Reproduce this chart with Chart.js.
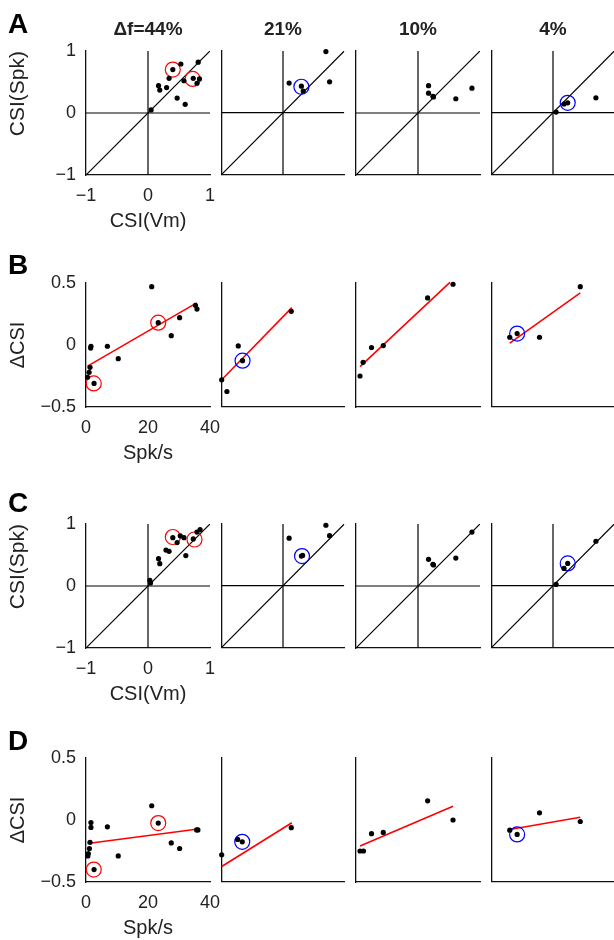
<!DOCTYPE html>
<html lang="en">
<head>
<meta charset="UTF-8">
<title>CSI scatter panels</title>
<script src="https://cdn.jsdelivr.net/npm/chart.js"></script>
<style>
  body { margin: 0; background: #fff; }
  #fig { position: relative; width: 614px; height: 940px; overflow: hidden; font-family: "Liberation Sans", Arial, sans-serif; }
  #fig canvas { position: absolute; }
  .letter { position: absolute; left: 8px; font-size: 28px; font-weight: bold; line-height: 28px; color: #000; z-index: 5; }
  .coltitle { position: absolute; top: 19px; width: 124px; text-align: center; font-size: 19px; font-weight: bold; line-height: 19px; color: #222; z-index: 5; }
</style>
</head>
<body>
<div id="fig"></div>
<script>
// labels
const rowLetters = ['A', 'B', 'C', 'D'];
const colTitles = ['\u0394f=44%', '21%', '10%', '4%'];

// axis limits / ticks
const csiLim = [-1, 1];
const rateLim = [0, 40];
const dcsiLim = [-0.5, 0.5];

// Row A: CSI(Spk) vs CSI(Vm)
const aPts44 = [[0.05,0.05],[0.40,0.70],[0.53,0.79],[0.81,0.82],[0.34,0.56],[0.17,0.44],[0.19,0.37],[0.30,0.41],[0.58,0.52],[0.73,0.56],[0.79,0.48],[0.83,0.55],[0.47,0.24],[0.60,0.14]];
const aPts21 = [[0.10,0.48],[0.30,0.43],[0.33,0.35],[0.70,0.99],[0.76,0.50]];
const aPts10 = [[0.17,0.44],[0.17,0.32],[0.24,0.27],[0.25,0.26],[0.61,0.23],[0.87,0.40]];
const aPts4 = [[0.05,0.01],[0.18,0.14],[0.24,0.16],[0.70,0.24]];
const aMark44 = [[0.40,0.70],[0.72,0.55]];
const aMark21 = [[0.30,0.42]];
const aMark4 = [[0.24,0.16]];

// Row B: dCSI vs firing rate
const bPts44 = [[21.2,0.47],[23.3,0.18],[30.2,0.22],[27.5,0.075],[35.3,0.32],[35.8,0.29],[6.9,-0.01],[10.4,-0.11],[1.6,-0.01],[1.5,-0.025],[1.3,-0.18],[1.0,-0.22],[0.5,-0.26],[2.6,-0.31]];
const bPts21 = [[0,-0.285],[1.7,-0.38],[5.4,-0.01],[6.8,-0.13],[22.7,0.27]];
const bPts10 = [[1.3,-0.25],[2.3,-0.14],[5.0,-0.02],[8.8,-0.005],[23.1,0.38],[31.3,0.49]];
const bPts4 = [[5.9,0.06],[8.3,0.09],[15.6,0.06],[28.9,0.47]];
const bMark44 = [[2.5,-0.31],[23.3,0.18]];
const bMark21 = [[6.8,-0.13]];
const bMark4 = [[8.3,0.09]];
const bFit44 = [[0.5,-0.17],[35.7,0.34]];
const bFit21 = [[0,-0.285],[22.9,0.30]];
const bFit10 = [[1.3,-0.175],[30.3,0.505]];
const bFit4 = [[5.9,0.013],[28.9,0.42]];

// Row C: CSI(Spk) vs CSI(Vm)
const cPts44 = [[0.03,0.09],[0.04,0.05],[0.17,0.44],[0.19,0.36],[0.29,0.58],[0.34,0.56],[0.40,0.78],[0.47,0.70],[0.52,0.81],[0.58,0.78],[0.61,0.49],[0.73,0.76],[0.79,0.87],[0.84,0.91]];
const cPts21 = [[0.10,0.77],[0.30,0.48],[0.32,0.49],[0.70,0.98],[0.76,0.81]];
const cPts10 = [[0.17,0.43],[0.24,0.35],[0.25,0.34],[0.61,0.45],[0.87,0.87]];
const cPts4 = [[0.05,0.02],[0.18,0.28],[0.24,0.36],[0.70,0.72]];
const cMark44 = [[0.40,0.79],[0.75,0.75]];
const cMark21 = [[0.31,0.48]];
const cMark4 = [[0.24,0.36]];

// Row D: dCSI vs firing rate
const dPts44 = [[21.2,0.115],[23.3,-0.025],[6.9,-0.055],[1.6,-0.02],[1.6,-0.06],[1.3,-0.18],[1.1,-0.23],[0.75,-0.27],[0.6,-0.29],[10.4,-0.29],[2.6,-0.40],[27.5,-0.185],[30.2,-0.23],[35.7,-0.08],[36.1,-0.08]];
const dPts21 = [[0,-0.285],[5.2,-0.16],[6.7,-0.18],[22.7,-0.065]];
const dPts10 = [[1.3,-0.25],[2.4,-0.25],[5.0,-0.11],[8.8,-0.10],[23.1,0.155],[31.3,0.0]];
const dPts4 = [[5.9,-0.085],[8.3,-0.12],[15.6,0.055],[28.9,-0.015]];
const dMark44 = [[2.5,-0.40],[23.3,-0.025]];
const dMark21 = [[6.7,-0.18]];
const dMark4 = [[8.3,-0.12]];
const dFit44 = [[0.5,-0.19],[36.2,-0.073]];
const dFit21 = [[0,-0.38],[22.9,-0.025]];
const dFit10 = [[1.3,-0.21],[31.3,0.11]];
const dFit4 = [[5.9,-0.08],[28.9,0.02]];

const rows = [
  { kind: 'csi', pts: [aPts44, aPts21, aPts10, aPts4], marks: [aMark44, aMark21, [], aMark4], fits: [] },
  { kind: 'rate', pts: [bPts44, bPts21, bPts10, bPts4], marks: [bMark44, bMark21, [], bMark4], fits: [bFit44, bFit21, bFit10, bFit4] },
  { kind: 'csi', pts: [cPts44, cPts21, cPts10, cPts4], marks: [cMark44, cMark21, [], cMark4], fits: [] },
  { kind: 'rate', pts: [dPts44, dPts21, dPts10, dPts4], marks: [dMark44, dMark21, [], dMark4], fits: [dFit44, dFit21, dFit10, dFit4] }
];

const colLeft = [86, 221, 356, 491];
const rowTop = [51, 283, 524, 758];
const plotSize = 124;
const fig = document.getElementById('fig');

Chart.defaults.font.family = '"Liberation Sans", Arial, sans-serif';
Chart.defaults.color = '#222';

const xy = arr => arr.map(p => ({ x: p[0], y: p[1] }));
const fmt = v => (v < 0 ? '\u2212' + (-v) : String(v));
// keep the plot box fixed: no extra room for overhanging tick labels
const noPad = s => { s.paddingTop = 0; s.paddingBottom = 0; s.paddingLeft = 0; s.paddingRight = 0; };

function makePanel(r, c) {
  const row = rows[r];
  const first = c === 0;
  const pad = first ? { left: 0, top: 14, right: 14, bottom: 0 } : { left: 8, top: 12, right: 8, bottom: 8 };
  const yw = first ? 86 : 0;
  const xh = first ? 64 : 0;
  const canvas = document.createElement('canvas');
  canvas.width = pad.left + yw + plotSize + pad.right;
  canvas.height = pad.top + plotSize + xh + pad.bottom;
  canvas.style.left = (colLeft[c] - yw - pad.left) + 'px';
  canvas.style.top = (rowTop[r] - pad.top) + 'px';
  fig.appendChild(canvas);

  const isCsi = row.kind === 'csi';
  const xLim = isCsi ? csiLim : rateLim;
  const yLim = isCsi ? csiLim : dcsiLim;

  const datasets = [];
  datasets.push({ data: xy(row.pts[c]), pointRadius: 2.6, pointBackgroundColor: '#000', pointBorderWidth: 0, order: 0, clip: false });
  if (row.marks[c].length) {
    datasets.push({ data: xy(row.marks[c]), pointRadius: 7.5, pointBackgroundColor: 'rgba(0,0,0,0)',
      pointBorderColor: first ? '#ff0000' : '#0000ff', pointBorderWidth: 1.2, order: 1, clip: false });
  }
  if (row.fits.length) {
    datasets.push({ data: xy(row.fits[c]), showLine: true, borderColor: '#ff0000', borderWidth: 1.6, pointRadius: 0, order: 2, clip: false });
  }
  if (isCsi) {
    // zero lines and unity line
    const refs = [[[xLim[0], 0], [xLim[1], 0]], [[0, yLim[0]], [0, yLim[1]]], [[xLim[0], yLim[0]], [xLim[1], yLim[1]]]];
    refs.forEach(seg => datasets.push({ data: xy(seg), showLine: true, borderColor: '#000', borderWidth: 1.2, pointRadius: 0, order: 3 }));
  }

  const tickFont = { size: 18 };
  const titleFont = { size: 20 };
  new Chart(canvas, {
    type: 'scatter',
    data: { datasets },
    options: {
      responsive: false,
      animation: false,
      devicePixelRatio: 1,
      layout: { padding: pad },
      plugins: { legend: { display: false }, tooltip: { enabled: false } },
      scales: {
        x: {
          type: 'linear', min: xLim[0], max: xLim[1],
          grid: { display: false, drawTicks: false },
          border: { display: true, color: '#111', width: 1.3 },
          ticks: { display: first, stepSize: isCsi ? 1 : 20, padding: 10, maxRotation: 0, minRotation: 0, font: tickFont, color: '#222', callback: fmt },
          title: { display: first, text: isCsi ? 'CSI(Vm)' : 'Spk/s', font: titleFont, color: '#222', padding: { top: 0, bottom: 6 } },
          afterFit: s => { s.height = xh; noPad(s); }
        },
        y: {
          type: 'linear', min: yLim[0], max: yLim[1],
          grid: { display: false, drawTicks: false },
          border: { display: true, color: '#111', width: 1.3 },
          ticks: { display: first, stepSize: isCsi ? 1 : 0.5, padding: 10, font: tickFont, color: '#222', callback: fmt },
          title: { display: first, text: isCsi ? 'CSI(Spk)' : '\u0394CSI', align: isCsi ? 'end' : 'center',
            font: isCsi ? { size: 21 } : titleFont, color: '#222', padding: { top: 6, bottom: 0 } },
          afterFit: s => { s.width = yw; noPad(s); }
        }
      }
    }
  });
}

for (let r = 0; r < 4; r++) {
  for (let c = 0; c < 4; c++) makePanel(r, c);
}

// panel letters and column headers
const letterTop = [10, 251, 489, 727];
rowLetters.forEach((t, i) => {
  const d = document.createElement('div');
  d.className = 'letter';
  d.style.top = letterTop[i] + 'px';
  d.textContent = t;
  fig.appendChild(d);
});
colTitles.forEach((t, i) => {
  const d = document.createElement('div');
  d.className = 'coltitle';
  d.style.left = colLeft[i] + 'px';
  d.textContent = t;
  fig.appendChild(d);
});
</script>
</body>
</html>
